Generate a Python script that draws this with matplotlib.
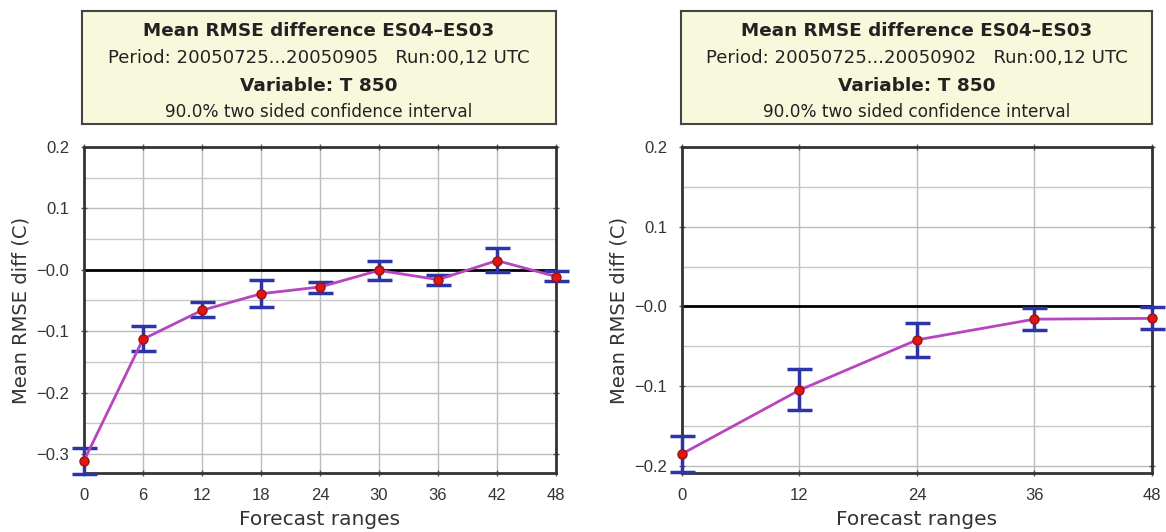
import numpy as np
import matplotlib.pyplot as plt
from matplotlib.ticker import MultipleLocator

plt.rcParams["font.family"] = ["Liberation Sans", "DejaVu Sans"]

# --- данные ---
left_steps = [0, 6, 12, 18, 24, 30, 36, 42, 48]
left_mean = [-0.311, -0.113, -0.066, -0.039, -0.028, -0.001, -0.016, 0.015, -0.011]
left_upper = [-0.291, -0.092, -0.053, -0.016, -0.020, 0.014, -0.009, 0.035, -0.002]
left_lower = [-0.332, -0.132, -0.077, -0.061, -0.037, -0.016, -0.025, -0.003, -0.019]
left_yticks = [0.2, 0.1, 0.0, -0.1, -0.2, -0.3]
left_yticklabels = ["0.2", "0.1", "\u22120.0", "\u22120.1", "\u22120.2", "\u22120.3"]
left_header = [
    "Mean RMSE difference ES04\u2013ES03",
    "Period: 20050725...20050905   Run:00,12 UTC",
    "Variable: T 850",
    "90.0% two sided confidence interval",
]

right_steps = [0, 12, 24, 36, 48]
right_mean = [-0.185, -0.105, -0.042, -0.016, -0.015]
right_upper = [-0.163, -0.079, -0.021, -0.002, -0.001]
right_lower = [-0.208, -0.130, -0.064, -0.030, -0.028]
right_yticks = [0.2, 0.1, 0.0, -0.1, -0.2]
right_yticklabels = ["0.2", "0.1", "\u22120.0", "\u22120.1", "\u22120.2"]
right_header = [
    "Mean RMSE difference ES04\u2013ES03",
    "Period: 20050725...20050902   Run:00,12 UTC",
    "Variable: T 850",
    "90.0% two sided confidence interval",
]

W, H = 1166, 532
WIDE = ["DejaVu Sans"]  # шире по горизонтали, как в оригинале


def _frac(x0, y0, x1, y1):
    # пиксели -> доли фигуры
    return [x0 / W, 1 - y1 / H, (x1 - x0) / W, (y1 - y0) / H]


def _draw_header(fig, rect, lines):
    hx = fig.add_axes(rect)
    hx.set_xlim(0, 1)
    hx.set_ylim(0, 1)
    hx.set_xticks([])
    hx.set_yticks([])
    hx.set_facecolor("#f8f8dc")
    for sp in hx.spines.values():
        sp.set_color("#444444")
        sp.set_linewidth(1.5)
    ys = [0.82, 0.58, 0.34, 0.11]
    styles = [("bold", 13.2), ("normal", 13.1), ("bold", 13.3), ("normal", 12.2)]
    for txt, y, (w, s) in zip(lines, ys, styles):
        hx.text(0.5, y, txt, ha="center", va="center", fontsize=s,
                fontweight=w, color="#222222", family=WIDE)


def _draw_panel(ax, steps, mean, lower, upper, ylim, yticks, yticklabels):
    mean = np.asarray(mean)
    yerr = [mean - np.asarray(lower), np.asarray(upper) - mean]

    ax.axhline(0, color="black", linewidth=2, zorder=2)
    ax.errorbar(steps, mean, yerr=yerr, fmt="none", ecolor="#2b35a8",
                elinewidth=2.5, capsize=9, capthick=2.5, zorder=3,
                clip_on=False)
    ax.plot(steps, mean, color="#b845c0", linewidth=2, zorder=4)
    ax.plot(steps, mean, "o", color="#e01515", markeredgecolor="#a01010",
            markersize=6.5, zorder=5, clip_on=False)

    ax.set_xlim(steps[0], steps[-1])
    ax.set_ylim(*ylim)
    ax.set_xticks(steps)
    ax.set_xticklabels([str(s) for s in steps])
    ax.set_yticks(yticks)
    ax.set_yticklabels(yticklabels)
    ax.yaxis.set_minor_locator(MultipleLocator(0.05))

    ax.grid(True, which="major", color="#bbbbbb", linewidth=1)
    ax.grid(True, which="minor", axis="y", color="#c8c8c8", linewidth=1)
    ax.set_axisbelow(True)
    ax.tick_params(which="major", direction="inout", length=5, width=1,
                   color="#555555", top=True, right=True, labelsize=12,
                   labelcolor="#333333", pad=8)
    ax.tick_params(which="minor", length=0)
    for sp in ax.spines.values():
        sp.set_color("#333333")
        sp.set_linewidth(2)

    ax.set_xlabel("Forecast ranges", fontsize=14.5, color="#333333",
                  labelpad=5, family=WIDE)
    ax.set_ylabel("Mean RMSE diff (C)", fontsize=14, color="#333333",
                  labelpad=4, family=WIDE)


fig = plt.figure(figsize=(W / 100, H / 100), dpi=100)

ax1 = fig.add_axes(_frac(84, 147, 556, 473))
_draw_panel(ax1, left_steps, left_mean, left_lower, left_upper,
            (-0.331, 0.2), left_yticks, left_yticklabels)
_draw_header(fig, _frac(82, 11, 556, 124), left_header)

ax2 = fig.add_axes(_frac(682, 147, 1152, 473))
_draw_panel(ax2, right_steps, right_mean, right_lower, right_upper,
            (-0.209, 0.2), right_yticks, right_yticklabels)
_draw_header(fig, _frac(681, 11, 1152, 124), right_header)

fig.savefig("out.png", dpi=100)
